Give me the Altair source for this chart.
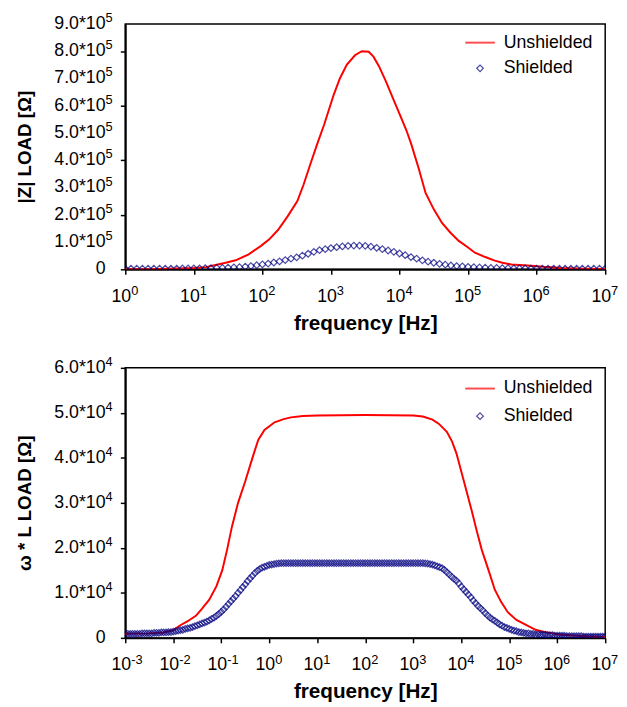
import altair as alt
import pandas as pd

FONT = "Liberation Sans"
SERIES = ["Unshielded", "Shielded"]

# ---------------- top panel: |Z| LOAD (units of 1e5 ohm) ----------------
top_unsh_logf = [0, 0.5, 1.0, 1.18, 1.3, 1.45, 1.61, 1.8, 1.98, 2.1, 2.23, 2.37, 2.51,
                 2.6, 2.7, 2.8, 2.9, 3.04, 3.13, 3.23, 3.35, 3.45, 3.55, 3.62, 3.7,
                 3.8, 3.9, 4.0, 4.1, 4.17, 4.28, 4.38, 4.5, 4.62, 4.74, 4.86, 5.0,
                 5.1, 5.25, 5.39, 5.5, 5.63, 5.87, 6.1, 6.35, 6.7, 7.0]
top_unsh_z = [0.0, 0.01, 0.05, 0.08, 0.15, 0.23, 0.33, 0.55, 0.86, 1.1, 1.45, 1.95, 2.5,
              3.1, 3.86, 4.6, 5.3, 6.4, 7.0, 7.5, 7.85, 8.0, 7.98, 7.8, 7.45,
              6.9, 6.3, 5.7, 5.1, 4.6, 3.7, 2.8, 2.2, 1.7, 1.35, 1.05, 0.8,
              0.61, 0.45, 0.32, 0.24, 0.18, 0.14, 0.09, 0.05, 0.02, 0.01]
# shielded: 12 samples per decade from 10^0 to 10^7
top_sh_z = [
    0.02, 0.02, 0.02, 0.02, 0.02, 0.02, 0.02, 0.02, 0.02, 0.02, 0.03, 0.03,
    0.03, 0.03, 0.04, 0.04, 0.05, 0.05, 0.06, 0.07, 0.08, 0.10, 0.12, 0.15,
    0.18, 0.21, 0.25, 0.29, 0.34, 0.39, 0.44, 0.50, 0.57, 0.64, 0.70, 0.74,
    0.78, 0.81, 0.84, 0.86, 0.87, 0.87, 0.86, 0.83, 0.79, 0.74, 0.69, 0.64,
    0.58, 0.52, 0.45, 0.39, 0.33, 0.28, 0.24, 0.20, 0.17, 0.14, 0.12, 0.11,
    0.09, 0.08, 0.07, 0.06, 0.05, 0.05, 0.04, 0.04, 0.03, 0.03, 0.03, 0.02,
    0.02, 0.02, 0.02, 0.02, 0.02, 0.02, 0.02, 0.02, 0.02, 0.02, 0.02, 0.02,
    0.02]
TOP_PER_DECADE = 12
top_x_exps = [0, 1, 2, 3, 4, 5, 6, 7]
top_y_ticks = [0, 1, 2, 3, 4, 5, 6, 7, 8, 9]  # x 1e5

# ---------------- bottom panel: omega*L LOAD (units of 1e4 ohm) ----------------
bot_unsh_logf = [-3, -2.5, -2.2, -2.0, -1.87, -1.7, -1.53, -1.4, -1.25, -1.1, -0.98,
                 -0.88, -0.78, -0.65, -0.5, -0.35, -0.23, -0.1, 0.11, 0.3, 0.45, 0.7,
                 1.0, 2.0, 3.0, 3.2, 3.4, 3.53, 3.7, 3.81, 3.9, 4.0, 4.1, 4.22, 4.33,
                 4.43, 4.57, 4.7, 4.83, 4.97, 5.15, 5.38, 5.55, 5.73, 6.07, 6.5, 7.0]
bot_unsh_v = [0.09, 0.10, 0.12, 0.17, 0.27, 0.37, 0.49, 0.65, 0.85, 1.15, 1.5,
              1.95, 2.46, 3.0, 3.48, 4.0, 4.4, 4.62, 4.79, 4.86, 4.9, 4.93,
              4.94, 4.95, 4.94, 4.92, 4.85, 4.76, 4.58, 4.36, 4.1, 3.7, 3.3, 2.82, 2.35,
              1.95, 1.5, 1.07, 0.8, 0.57, 0.4, 0.27, 0.18, 0.13, 0.07, 0.04, 0.02]
# shielded: 20 samples per decade from 10^-3 to 10^7
bot_sh_v = [
    0.09, 0.09, 0.09, 0.09, 0.09, 0.09, 0.09, 0.10, 0.10, 0.10, 0.10, 0.10, 0.11, 0.11, 0.11, 0.12, 0.12, 0.12, 0.13, 0.13,
    0.14, 0.15, 0.16, 0.17, 0.18, 0.20, 0.21, 0.22, 0.24, 0.26, 0.28, 0.30, 0.32, 0.34, 0.36, 0.39, 0.42, 0.45, 0.49, 0.53,
    0.58, 0.63, 0.69, 0.75, 0.81, 0.87, 0.93, 1.00, 1.06, 1.13, 1.19, 1.26, 1.32, 1.38, 1.44, 1.49, 1.53, 1.56, 1.58, 1.60,
    1.62, 1.63, 1.64, 1.65, 1.655, 1.66, 1.66, 1.66, 1.66, 1.66, 1.66, 1.66, 1.66, 1.66, 1.66, 1.66, 1.66, 1.66, 1.66, 1.66,
    1.66, 1.66, 1.66, 1.66, 1.66, 1.66, 1.66, 1.66, 1.66, 1.66, 1.66, 1.66, 1.66, 1.66, 1.66, 1.66, 1.66, 1.66, 1.66, 1.66,
    1.66, 1.66, 1.66, 1.66, 1.66, 1.66, 1.66, 1.66, 1.66, 1.66, 1.66, 1.66, 1.66, 1.66, 1.66, 1.66, 1.66, 1.66, 1.66, 1.66,
    1.66, 1.66, 1.66, 1.66, 1.66, 1.655, 1.65, 1.64, 1.63, 1.61, 1.59, 1.57, 1.55, 1.51, 1.46, 1.41, 1.36, 1.31, 1.27, 1.21,
    1.14, 1.08, 1.02, 0.96, 0.90, 0.83, 0.77, 0.71, 0.66, 0.61, 0.55, 0.50, 0.45, 0.41, 0.38, 0.34, 0.30, 0.27, 0.24, 0.22,
    0.20, 0.18, 0.16, 0.15, 0.13, 0.12, 0.11, 0.10, 0.10, 0.09, 0.09, 0.08, 0.08, 0.07, 0.07, 0.07, 0.06, 0.06, 0.06, 0.05,
    0.05, 0.05, 0.05, 0.05, 0.04, 0.04, 0.04, 0.04, 0.04, 0.04, 0.04, 0.03, 0.03, 0.03, 0.03, 0.03, 0.03, 0.03, 0.03, 0.03,
    0.03]
BOT_PER_DECADE = 20
bot_x_exps = [-3, -2, -1, 0, 1, 2, 3, 4, 5, 6, 7]
bot_y_ticks = [0, 1, 2, 3, 4, 5, 6]  # x 1e4

# ---------------- tables ----------------
top_line = pd.DataFrame({"f": [10.0 ** e for e in top_unsh_logf],
                         "v": [z * 1e5 for z in top_unsh_z], "series": "Unshielded"})
top_pts = pd.DataFrame({"f": [10 ** (i / TOP_PER_DECADE) for i in range(len(top_sh_z))],
                        "v": [z * 1e5 for z in top_sh_z], "series": "Shielded"})
bot_line = pd.DataFrame({"f": [10.0 ** e for e in bot_unsh_logf],
                         "v": [z * 1e4 for z in bot_unsh_v], "series": "Unshielded"})
bot_pts = pd.DataFrame({"f": [10 ** (-3 + i / BOT_PER_DECADE) for i in range(len(bot_sh_v))],
                        "v": [z * 1e4 for z in bot_sh_v], "series": "Shielded"})

color_scale = alt.Scale(domain=SERIES, range=["#ff0000", "#000080"])
shape_scale = alt.Scale(domain=SERIES, range=["M-2,0H2", "diamond"])
size_scale = alt.Scale(domain=SERIES, range=[225, 45])
sw_scale = alt.Scale(domain=SERIES, range=[2, 1.2])

LABEL_SIZE = 18
SUP_SIZE = 13


def panel(df_line, df_pts, x_exps, y_ticks, unit_exp, ytitle, height, legend_y, row_pad):
    unit = 10.0 ** unit_exp
    xvals = [10.0 ** e for e in x_exps]
    yvals = [t * unit for t in y_ticks]
    xscale = alt.Scale(type="log", domain=[xvals[0], xvals[-1]], nice=False)
    yscale = alt.Scale(domain=[0, yvals[-1]], nice=False)
    x = alt.X("f:Q", scale=xscale,
              axis=alt.Axis(values=xvals, labels=False, title="frequency [Hz]"))
    y = alt.Y("v:Q", scale=yscale,
              axis=alt.Axis(values=yvals, labels=False, title=ytitle))
    leg = alt.Legend(title=None, orient="none", legendX=351, legendY=legend_y,
                     labelFontSize=18, labelFont=FONT, labelColor="black", labelOffset=15,
                     rowPadding=row_pad, padding=0)
    line = alt.Chart(df_line).mark_line(clip=True).encode(
        x=x, y=y,
        color=alt.Color("series:N", scale=color_scale, legend=leg),
        strokeWidth=alt.StrokeWidth("series:N", scale=sw_scale, legend=leg),
    )
    pts = alt.Chart(df_pts).mark_point(filled=False, clip=True).encode(
        x=x, y=y,
        color=alt.Color("series:N", scale=color_scale, legend=leg),
        shape=alt.Shape("series:N", scale=shape_scale, legend=leg),
        size=alt.Size("series:N", scale=size_scale, legend=leg),
        strokeWidth=alt.StrokeWidth("series:N", scale=sw_scale, legend=leg),
    )
    # tick labels with real superscripts: "10" + exponent, "n.0*10" + exponent
    xlab = pd.DataFrame({"f": xvals, "base": ["10"] * len(xvals), "sup": [str(e) for e in x_exps]})
    ylab = pd.DataFrame({"v": yvals,
                         "base": ["0" if t == 0 else "%.1f*10" % t for t in y_ticks],
                         "sup": ["" if t == 0 else str(unit_exp) for t in y_ticks]})
    xbase = alt.Chart(xlab).mark_text(align="right", baseline="alphabetic", dx=6, font=FONT,
                                      fontSize=LABEL_SIZE, color="black").encode(
        x=alt.X("f:Q", scale=xscale), y=alt.value(height + 33), text="base:N")
    xsup = alt.Chart(xlab).mark_text(align="left", baseline="alphabetic", dx=6, font=FONT,
                                     fontSize=SUP_SIZE, color="black").encode(
        x=alt.X("f:Q", scale=xscale), y=alt.value(height + 26), text="sup:N")
    ybase = alt.Chart(ylab).mark_text(align="right", baseline="middle", font=FONT,
                                      fontSize=LABEL_SIZE, color="black").encode(
        x=alt.value(-20), y=alt.Y("v:Q", scale=yscale), text="base:N")
    ysup = alt.Chart(ylab).mark_text(align="left", baseline="middle", dy=-6, font=FONT,
                                     fontSize=SUP_SIZE, color="black").encode(
        x=alt.value(-20), y=alt.Y("v:Q", scale=yscale), text="sup:N")
    return alt.layer(line, pts, xbase, xsup, ybase, ysup).properties(width=487, height=height)


top = panel(top_line, top_pts, top_x_exps, top_y_ticks, 5, "|Z| LOAD [\u03a9]", 249, 10, 8)
bot = panel(bot_line, bot_pts, bot_x_exps, bot_y_ticks, 4, "\u03c9 * L LOAD [\u03a9]", 274, 12, 10)

chart = alt.vconcat(top, bot, spacing=21, background="white",
                    padding={"left": 7, "top": -2, "right": 0, "bottom": 0}).resolve_scale(
    color="independent", shape="independent", size="independent", strokeWidth="independent"
).configure_view(
    stroke="black", strokeWidth=1.5
).configure_axis(
    grid=False, domainColor="black", domainWidth=2, tickColor="black", tickSize=5,
    tickWidth=1.5, labelFont=FONT, labelColor="black",
    titleFont=FONT, titleColor="black", titleFontWeight="bold",
).configure_axisX(
    titleFontSize=21, titlePadding=38,
).configure_axisY(
    titleFontSize=19, titlePadding=86,
)

chart.save("out.html", embed_options={"renderer": "svg", "actions": False})
